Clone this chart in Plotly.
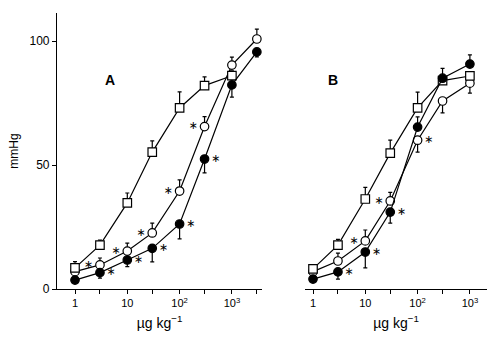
import plotly.graph_objects as go

# ---- data ----
doses_a = [1, 3, 10, 30, 100, 300, 1000, 3000]
sq_a = [8.5, 17.7, 34.7, 55.2, 73, 82, 86]
sq_a_up = [2.5, 2, 4, 4.5, 6.5, 3.5, 2]
oc_a = [7, 9.7, 15.3, 22.6, 39.5, 65.5, 90.3, 100.8]
oc_a_up = [0, 2.8, 3.2, 4, 4.5, 4, 3.2, 4]
oc_a_star = [False, True, True, True, True, True, False, False]
fc_a = [3.6, 6.6, 11.7, 16.4, 26.2, 52.4, 82.3, 95.6]
fc_a_dn = [0, 2.2, 2.7, 5.5, 6, 5.6, 4.9, 2]
fc_a_star = [False, True, True, True, True, True, False, False]

doses_b = [1, 3, 10, 30, 100, 300, 1000]
sq_b = [8.1, 17.7, 36.3, 54.8, 73, 84, 85.9]
sq_b_up = [1, 2.3, 4.7, 5.2, 6.4, 0, 0]
oc_b = [7, 11.3, 19.4, 35.5, 60, 75.8, 83]
oc_b_up = [0, 3.2, 4.4, 3.5, 0, 0, 0]
oc_b_dn = [0, 0, 0, 0, 4.8, 4.8, 4]
oc_b_star = [False, False, True, True, True, False, False]
oc_b_starside = ['left', 'left', 'left', 'left', 'right', 'left', 'left']
fc_b = [4, 6.9, 14.9, 31, 65.3, 85, 90.7]
fc_b_up = [0, 0, 0, 0, 4.1, 4, 3.7]
fc_b_dn = [0, 2.9, 6.4, 4.4, 0, 0, 0]
fc_b_star = [False, True, True, True, False, False, False]

major_vals = [1, 10, 100, 1000]
major_text = ['1', '10', '10<sup>2</sup>', '10<sup>3</sup>']
minor_vals = [3, 30, 300, 3000]
y_ticks = [0, 50, 100]

FONT = 'Liberation Sans, Arial, sans-serif'
W, H = 487, 337


def err(up, dn=None):
    return dict(type='data', symmetric=False, array=up,
                arrayminus=dn if dn is not None else [0] * len(up),
                color='black', thickness=1.2, width=2)


def series(x, y, symbol, fill, xa, ya, up=None, dn=None):
    u = up if up is not None else [0] * len(y)
    return go.Scatter(
        x=x[:len(y)], y=y, mode='lines+markers',
        line=dict(color='black', width=1.2),
        marker=dict(symbol=symbol, size=8.5, color=fill, line=dict(color='black', width=1.2)),
        error_y=err(u, dn), xaxis=xa, yaxis=ya, showlegend=False, cliponaxis=False)


def stars(x, y, flags, sides, xa, ya):
    xs = [xv for xv, f in zip(x, flags) if f]
    ys = [yv for yv, f in zip(y, flags) if f]
    pos = ['middle ' + s for s, f in zip(sides, flags) if f]
    return go.Scatter(
        x=xs, y=ys, mode='markers+text', text=['∗'] * len(xs), textposition=pos,
        marker=dict(size=9, opacity=0), textfont=dict(family='DejaVu Sans', size=11, color='black'),
        xaxis=xa, yaxis=ya, showlegend=False, cliponaxis=False, hoverinfo='skip')


fig = go.Figure()
# Panel A
fig.add_trace(series(doses_a, oc_a, 'circle', 'white', 'x', 'y', up=oc_a_up))
fig.add_trace(series(doses_a, sq_a, 'square', 'white', 'x', 'y', up=sq_a_up))
fig.add_trace(series(doses_a, fc_a, 'circle', 'black', 'x', 'y', dn=fc_a_dn))
fig.add_trace(stars(doses_a, oc_a, oc_a_star, ['left'] * 8, 'x', 'y'))
fig.add_trace(stars(doses_a, fc_a, fc_a_star, ['right'] * 8, 'x', 'y'))
# Panel B
fig.add_trace(series(doses_b, oc_b, 'circle', 'white', 'x2', 'y2', up=oc_b_up, dn=oc_b_dn))
fig.add_trace(series(doses_b, sq_b, 'square', 'white', 'x2', 'y2', up=sq_b_up))
fig.add_trace(series(doses_b, fc_b, 'circle', 'black', 'x2', 'y2', up=fc_b_up, dn=fc_b_dn))
fig.add_trace(stars(doses_b, oc_b, oc_b_star, oc_b_starside, 'x2', 'y2'))
fig.add_trace(stars(doses_b, fc_b, fc_b_star, ['right'] * 7, 'x2', 'y2'))

px_dec = 52.3
y0_px, top_px, px_unit = 289, 13, 2.48
y_dom = [(H - y0_px) / H, (H - top_px) / H]
y_rng = [0, (y0_px - top_px) / px_unit]

xcommon = dict(type='log', tickmode='array', tickvals=major_vals, ticktext=major_text,
               ticks='outside', ticklen=4, tickwidth=1, tickcolor='black',
               minor=dict(tickmode='array', tickvals=minor_vals, ticks='outside', ticklen=4,
                          tickwidth=1, tickcolor='black', showgrid=False),
               showline=True, linecolor='black',
               linewidth=1.2, showgrid=False, zeroline=False, automargin=False,
               tickfont=dict(family=FONT, size=11, color='black'),
               title=dict(text='µg kg<sup>−1</sup>', font=dict(family=FONT, size=14, color='black'),
                          standoff=9))

fig.update_layout(
    width=W, height=H, margin=dict(l=0, r=0, t=0, b=0, autoexpand=False),
    paper_bgcolor='white', plot_bgcolor='white',
    xaxis=dict(domain=[57 / W, 262 / W], range=[(57 - 75) / px_dec, (262 - 75) / px_dec],
               anchor='y', **xcommon),
    yaxis=dict(domain=y_dom, range=y_rng, tickvals=y_ticks, ticks='outside', ticklen=4,
               tickcolor='black', showline=True, linecolor='black', linewidth=1.2,
               showgrid=False, zeroline=False, anchor='x', automargin=False,
               tickfont=dict(family=FONT, size=12, color='black'),
               title=dict(text='mmHg', font=dict(family=FONT, size=12, color='black'), standoff=8)),
    xaxis2=dict(domain=[305 / W, 1.0], range=[(305 - 313) / px_dec, (487 - 313) / px_dec],
                anchor='y2', **xcommon),
    yaxis2=dict(domain=y_dom, range=y_rng, visible=False, anchor='x2'),
    annotations=[
        dict(text='<b>A</b>', x=103 / W, y=(H - 70) / H, xref='paper', yref='paper',
             showarrow=False, font=dict(family=FONT, size=14, color='black')),
        dict(text='<b>B</b>', x=340 / W, y=(H - 70) / H, xref='paper', yref='paper',
             showarrow=False, font=dict(family=FONT, size=14, color='black')),
    ],
)

fig.write_html('out.html', config={'displayModeBar': False},
               post_script="document.body.style.margin='0';document.body.style.overflow='hidden';")
